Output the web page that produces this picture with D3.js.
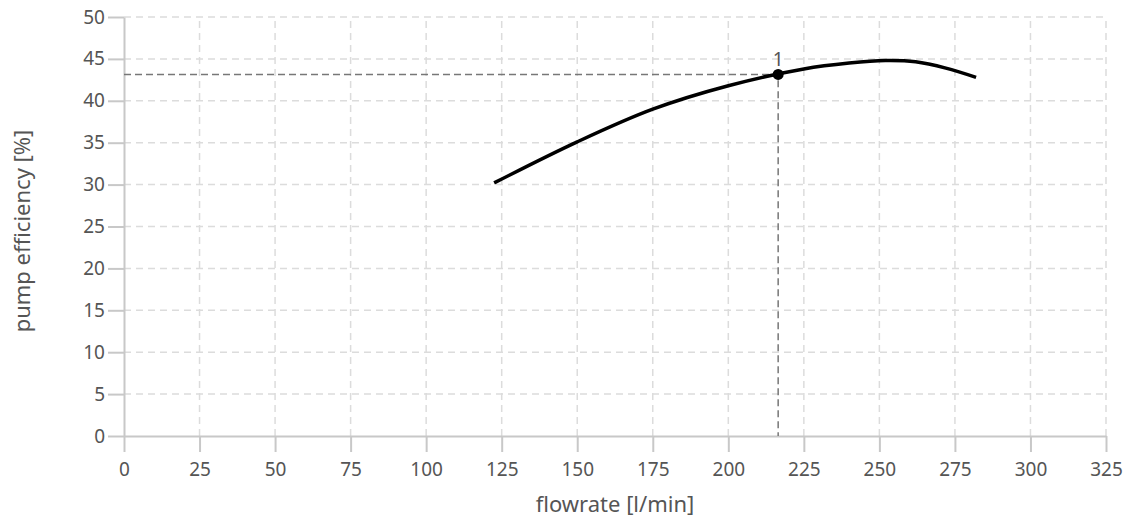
<!DOCTYPE html>
<html>
<head>
<meta charset="utf-8">
<script src="https://cdn.jsdelivr.net/npm/d3@7"></script>
<style>
  body { margin: 0; background: #fff; }
  text { font-family: "Noto Sans", "Open Sans", sans-serif; fill: #555; }
</style>
</head>
<body>
<script>
// curve
var flow = [122.5, 150, 175, 200, 225, 240, 252, 262, 272, 282];
var eff  = [30.2, 35.1, 39.0, 41.8, 43.8, 44.5, 44.8, 44.65, 43.9, 42.8];
var opFlow = 216.5;
var opEff = 43.15;
var opLabel = "1";
var xTicks = d3.range(0, 326, 25);
var yTicks = d3.range(0, 51, 5);

var W = 1128, H = 523;
var m = { left: 124, right: 22, top: 17, bottom: 87 };

var svg = d3.select("body").append("svg")
  .attr("width", W)
  .attr("height", H);

var x = d3.scaleLinear().domain([0, 325]).range([m.left, W - m.right]);
var y = d3.scaleLinear().domain([0, 50]).range([H - m.bottom, m.top]);

//
// grid
//
svg.append("g").selectAll("line")
  .data(xTicks.filter(function(d) { return d > 0; }))
  .enter().append("line")
  .attr("x1", function(d) { return x(d); })
  .attr("x2", function(d) { return x(d); })
  .attr("y1", y(0))
  .attr("y2", y(50))
  .attr("stroke", "#dcdcdc")
  .attr("stroke-width", 1.5)
  .attr("stroke-dasharray", "7,5");

svg.append("g").selectAll("line")
  .data(yTicks.filter(function(d) { return d > 0; }))
  .enter().append("line")
  .attr("x1", x(0))
  .attr("x2", x(325))
  .attr("y1", function(d) { return y(d); })
  .attr("y2", function(d) { return y(d); })
  .attr("stroke", "#dcdcdc")
  .attr("stroke-width", 1.5)
  .attr("stroke-dasharray", "7,5");

//
// axes
//
var xAxis = svg.append("g")
  .attr("transform", "translate(0," + y(0) + ")")
  .call(d3.axisBottom(x).tickValues(xTicks).tickSize(16).tickPadding(11).tickSizeOuter(0));
var yAxis = svg.append("g")
  .attr("transform", "translate(" + x(0) + ",0)")
  .call(d3.axisLeft(y).tickValues(yTicks).tickSize(16).tickPadding(3).tickSizeOuter(0));

[xAxis, yAxis].forEach(function(a) {
  a.select(".domain").attr("stroke", "#c8c8c8").attr("stroke-width", 2);
  a.selectAll(".tick line").attr("stroke", "#c8c8c8").attr("stroke-width", 2);
  a.selectAll(".tick text").attr("font-size", 19).attr("fill", "#555")
    .attr("font-family", "'Noto Sans', sans-serif");
});

//
// operating point guides
//
svg.append("path")
  .attr("d", "M" + x(0) + "," + y(opEff) + "H" + x(opFlow) + "V" + y(0))
  .attr("fill", "none")
  .attr("stroke", "#777")
  .attr("stroke-width", 1.5)
  .attr("stroke-dasharray", "7,4");

//
// efficiency curve
//
var line = d3.line()
  .x(function(d) { return x(d[0]); })
  .y(function(d) { return y(d[1]); })
  .curve(d3.curveCatmullRom.alpha(0.5));

svg.append("path")
  .datum(d3.zip(flow, eff))
  .attr("d", line)
  .attr("fill", "none")
  .attr("stroke", "#000")
  .attr("stroke-width", 3.5);

svg.append("circle")
  .attr("cx", x(opFlow))
  .attr("cy", y(opEff))
  .attr("r", 5.5)
  .attr("fill", "#000");

svg.append("text")
  .attr("x", x(opFlow))
  .attr("y", y(opEff) - 8)
  .attr("text-anchor", "middle")
  .attr("font-size", 19)
  .attr("fill", "#333")
  .text(opLabel);

//
// axis titles
//
svg.append("text")
  .attr("x", (x(0) + x(325)) / 2)
  .attr("y", 512)
  .attr("text-anchor", "middle")
  .attr("font-size", 22)
  .text("flowrate [l/min]");

svg.append("text")
  .attr("transform", "translate(30,231) rotate(-90)")
  .attr("text-anchor", "middle")
  .attr("font-size", 22)
  .text("pump efficiency [%]");
</script>
</body>
</html>
